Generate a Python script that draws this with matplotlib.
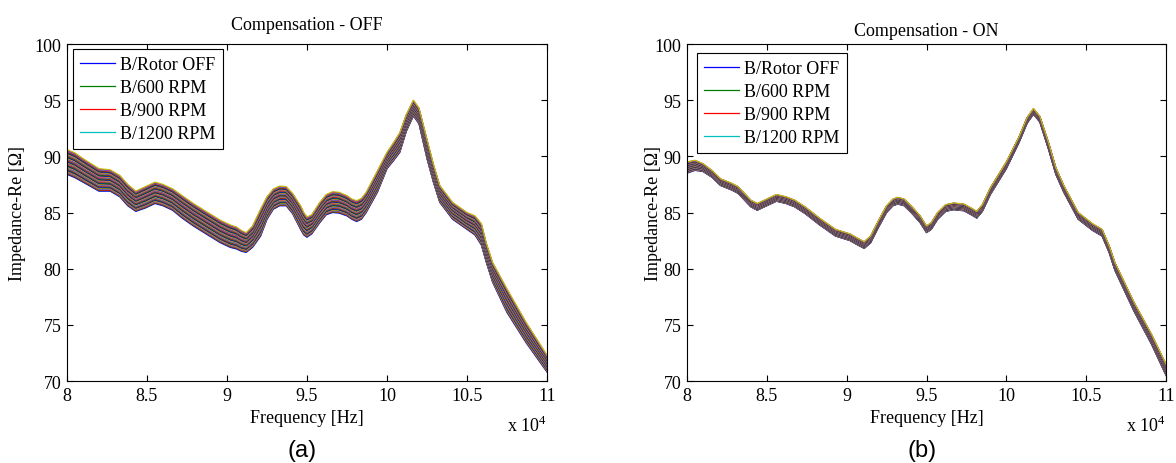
import numpy as np
import matplotlib
matplotlib.use("Agg")
import matplotlib.pyplot as plt

plt.rcParams.update({
    "font.family": ["Liberation Serif", "DejaVu Serif"],
    "font.size": 13,
    "mathtext.fontset": "custom",
    "mathtext.rm": "Liberation Serif",
    "axes.linewidth": 0.8,
})

# frequency in units of 1e4 Hz; upper / lower edge of the bundle of sweeps
FREQ_OFF = [8.0, 8.05, 8.1, 8.2, 8.27, 8.33, 8.38, 8.43, 8.49, 8.55, 8.6, 8.66, 8.72, 8.79,
            8.88, 8.96, 9.02, 9.06, 9.09, 9.12, 9.16, 9.21, 9.25, 9.29, 9.33, 9.37, 9.41,
            9.46, 9.48, 9.5, 9.53, 9.58, 9.62, 9.66, 9.7, 9.75, 9.78, 9.81, 9.84, 9.87,
            9.94, 10.0, 10.04, 10.08, 10.12, 10.165, 10.2, 10.25, 10.29, 10.33, 10.41,
            10.5, 10.55, 10.59, 10.62, 10.66, 10.75, 10.87, 11.0]
TOP_OFF = [90.6, 90.3, 89.8, 88.9, 88.8, 88.3, 87.5, 86.9, 87.3, 87.7, 87.5, 87.1, 86.5, 85.8,
           85.0, 84.3, 83.9, 83.7, 83.4, 83.2, 83.8, 85.3, 86.4, 87.1, 87.35, 87.3, 86.7,
           85.6, 85.0, 84.6, 84.8, 85.9, 86.6, 86.85, 86.8, 86.5, 86.2, 86.05, 86.25, 86.8,
           88.7, 90.35, 91.2, 92.1, 93.7, 95.0, 94.3, 91.5, 89.3, 87.4, 85.9,
           85.0, 84.7, 84.0, 82.3, 80.55, 78.2, 75.2, 72.3]
BOT_OFF = [88.4, 88.1, 87.7, 86.9, 86.9, 86.4, 85.6, 85.1, 85.4, 85.8, 85.6, 85.2, 84.5, 83.8,
           83.0, 82.3, 81.9, 81.75, 81.55, 81.45, 81.9, 82.9, 84.4, 85.3, 85.6, 85.6, 84.9,
           83.5, 83.0, 82.8, 83.1, 84.1, 84.8, 85.0, 84.95, 84.7, 84.4, 84.2, 84.4, 85.0,
           86.8, 88.9, 89.6, 90.35, 92.2, 93.6, 92.9, 89.8, 87.7, 85.9, 84.4,
           83.5, 83.0, 82.1, 80.6, 78.8, 76.1, 73.4, 70.8]

FREQ_ON = [8.0, 8.05, 8.1, 8.16, 8.21, 8.28, 8.32, 8.36, 8.4, 8.44, 8.5, 8.56, 8.62, 8.675,
           8.74, 8.83, 8.93, 9.02, 9.07, 9.11, 9.15, 9.2, 9.25, 9.29, 9.32, 9.36, 9.41,
           9.46, 9.5, 9.53, 9.57, 9.62, 9.67, 9.735, 9.78, 9.815, 9.85, 9.9, 10.0, 10.08,
           10.13, 10.17, 10.21, 10.265, 10.31, 10.36, 10.45, 10.54, 10.6, 10.645, 10.68,
           10.8, 10.91, 11.0]
TOP_ON = [89.5, 89.65, 89.35, 88.7, 88.0, 87.6, 87.3, 86.7, 86.1, 85.8, 86.2, 86.6, 86.4, 86.1,
          85.5, 84.5, 83.5, 83.1, 82.7, 82.4, 82.9, 84.3, 85.6, 86.2, 86.35, 86.2, 85.5,
          84.7, 83.8, 84.1, 85.0, 85.7, 85.85, 85.75, 85.4, 85.1, 85.7, 87.2, 89.5, 91.75,
          93.45, 94.25, 93.55, 91.2, 89.0, 87.4, 85.0, 84.0, 83.5, 82.0, 80.55,
          77.0, 74.15, 71.5]
BOT_ON = [88.5, 88.75, 88.65, 88.1, 87.4, 87.0, 86.7, 86.1, 85.5, 85.2, 85.6, 86.0, 85.8, 85.5,
          84.9, 83.9, 82.9, 82.5, 82.1, 81.8, 82.3, 83.7, 85.0, 85.6, 85.75, 85.6, 84.9,
          84.1, 83.2, 83.5, 84.4, 85.1, 85.25, 85.15, 84.8, 84.5, 85.1, 86.6, 88.9, 91.25,
          92.95, 93.75, 93.05, 90.6, 88.4, 86.8, 84.4, 83.4, 82.9, 81.4, 79.85,
          76.2, 73.25, 70.5]

# position of each measured sweep inside the bundle (0 = lower edge, 1 = upper edge),
# sweeps drift upward in the order they were recorded
LEVELS = [0.00, 0.03, 0.05, 0.08, 0.10, 0.12, 0.15, 0.18, 0.20, 0.22, 0.25, 0.28, 0.30,
          0.33, 0.35, 0.37, 0.40, 0.43, 0.45, 0.47, 0.50, 0.53, 0.55, 0.57, 0.60, 0.62,
          0.65, 0.68, 0.70, 0.72, 0.75, 0.78, 0.80, 0.82, 0.85, 0.88, 0.90, 0.92, 0.95,
          0.97, 1.00]

LEGEND = ["B/Rotor OFF", "B/600 RPM", "B/900 RPM", "B/1200 RPM"]
COLORS = ["#0000ff", "#008000", "#ff0000", "#00bfbf", "#bf00bf", "#bfbf00", "#404040"]
XTICKS = [8, 8.5, 9, 9.5, 10, 10.5, 11]
XLABELS = ["8", "8.5", "9", "9.5", "10", "10.5", "11"]
YTICKS = [70, 75, 80, 85, 90, 95, 100]

fig = plt.figure(figsize=(11.76, 4.64), dpi=100)
ax1 = fig.add_axes([67 / 1176, 82 / 464, 480 / 1176, 337 / 464])
ax2 = fig.add_axes([687 / 1176, 82 / 464, 479 / 1176, 337 / 464])

panels = [
    (ax1, FREQ_OFF, TOP_OFF, BOT_OFF, "Compensation - OFF", 0.059, (0.0125, 0.985), -0.085, "(a)"),
    (ax2, FREQ_ON, TOP_ON, BOT_ON, "Compensation - ON", 0.039, (0.021, 0.973), -0.052, "(b)"),
]

for ax, f, top, bot, title, ty, lpos, ylx, tag in panels:
    f = np.asarray(f); top = np.asarray(top); bot = np.asarray(bot)
    lines = []
    for k, lv in enumerate(LEVELS):
        ln, = ax.plot(f, bot + lv * (top - bot), color=COLORS[k % len(COLORS)], lw=0.9)
        lines.append(ln)
    ax.set_xlim(8, 11); ax.set_ylim(70, 100)
    ax.set_xticks(XTICKS); ax.set_xticklabels(XLABELS)
    ax.set_yticks(YTICKS)
    ax.tick_params(direction="in", top=True, right=True, length=4, width=0.8,
                   labelsize=13, pad=4, colors="black")
    ax.text(0.5, 1 + ty, title, transform=ax.transAxes, ha="center", va="center", fontsize=13)
    ax.set_xlabel("Frequency [Hz]", fontsize=13)
    ax.xaxis.set_label_coords(0.5, -0.082)
    ax.set_ylabel("Impedance-Re [Ω]", fontsize=13)
    ax.yaxis.set_label_coords(ylx, 0.5)
    ax.text(1.0, -0.13, "x 10$^{4}$", transform=ax.transAxes, ha="right", va="center", fontsize=13)
    ax.text(0.49, -0.205, tag, transform=ax.transAxes, ha="center", va="center",
            fontsize=17, family="Liberation Sans")
    leg = ax.legend(lines[:4], LEGEND, loc="upper left", bbox_to_anchor=lpos, borderaxespad=0,
                    fancybox=False, framealpha=1, edgecolor="black", fontsize=13,
                    handlelength=1.9, handletextpad=0.3, labelspacing=0.33, borderpad=0.4)
    leg.get_frame().set_linewidth(0.8)

fig.savefig("out.png", dpi=100)
